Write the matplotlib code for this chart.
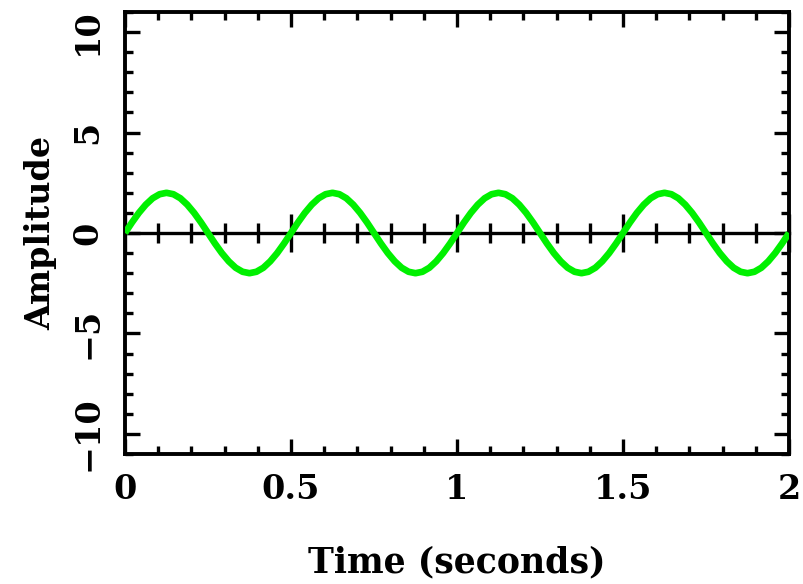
import numpy as np
import matplotlib
matplotlib.use('Agg')
import matplotlib.pyplot as plt
from matplotlib.ticker import MultipleLocator

amplitude = [
    0.0, 0.52, 1.0, 1.41, 1.73, 1.93, 2.0, 1.93, 1.73, 1.41, 1.0, 0.52,
    0.0, -0.52, -1.0, -1.41, -1.73, -1.93, -2.0, -1.93, -1.73, -1.41, -1.0, -0.52,
    0.0, 0.52, 1.0, 1.41, 1.73, 1.93, 2.0, 1.93, 1.73, 1.41, 1.0, 0.52,
    0.0, -0.52, -1.0, -1.41, -1.73, -1.93, -2.0, -1.93, -1.73, -1.41, -1.0, -0.52,
    0.0, 0.52, 1.0, 1.41, 1.73, 1.93, 2.0, 1.93, 1.73, 1.41, 1.0, 0.52,
    0.0, -0.52, -1.0, -1.41, -1.73, -1.93, -2.0, -1.93, -1.73, -1.41, -1.0, -0.52,
    0.0, 0.52, 1.0, 1.41, 1.73, 1.93, 2.0, 1.93, 1.73, 1.41, 1.0, 0.52,
    0.0, -0.52, -1.0, -1.41, -1.73, -1.93, -2.0, -1.93, -1.73, -1.41, -1.0, -0.52,
    0.0,
]
time = np.linspace(0, 2, len(amplitude))

x_ticks = [0, 0.5, 1, 1.5, 2]
x_labels = ['0', '0.5', '1', '1.5', '2']
y_ticks = [-10, -5, 0, 5, 10]
y_labels = ['\u221210', '\u22125', '0', '5', '10']

plt.rcParams['font.family'] = ['DejaVu Serif']
plt.rcParams['font.weight'] = 'bold'

fig = plt.figure(figsize=(8.04, 5.84), dpi=100)
ax = fig.add_axes([125 / 804, 1 - 454 / 584, 664 / 804, 442 / 584])

ax.plot(time, amplitude, color='#00f000', lw=4.8, zorder=5, solid_capstyle='butt')
ax.set_xlim(0, 2)
ax.set_ylim(-11, 11)

for s in ax.spines.values():
    s.set_linewidth(2.8)

ax.set_xticks(x_ticks)
ax.set_xticklabels(x_labels)
ax.set_yticks(y_ticks)
ax.set_yticklabels(y_labels, rotation=90, va='center')
ax.xaxis.set_minor_locator(MultipleLocator(0.1))
ax.yaxis.set_minor_locator(MultipleLocator(1))
ax.tick_params(which='both', direction='in', top=True, right=True, width=2.4,
               labelsize=24)
ax.tick_params(axis='x', pad=14)
ax.tick_params(axis='y', pad=15)
ax.tick_params(which='major', length=11)
ax.tick_params(which='minor', length=5.5)

# zero line with its own crossing ticks
zero = ax.secondary_xaxis(0, transform=ax.transData)
zero.spines['bottom'].set_linewidth(2.4)
zero.xaxis.set_major_locator(MultipleLocator(0.5))
zero.xaxis.set_minor_locator(MultipleLocator(0.1))
zero.tick_params(which='both', direction='inout', width=2.4, labelbottom=False)
zero.tick_params(which='major', length=28)
zero.tick_params(which='minor', length=14)

ax.set_xlabel('Time (seconds)', fontsize=25, fontweight='bold', labelpad=28)
ax.set_ylabel('Amplitude', fontsize=24, fontweight='bold', labelpad=10)

fig.savefig('out.png', dpi=100)
